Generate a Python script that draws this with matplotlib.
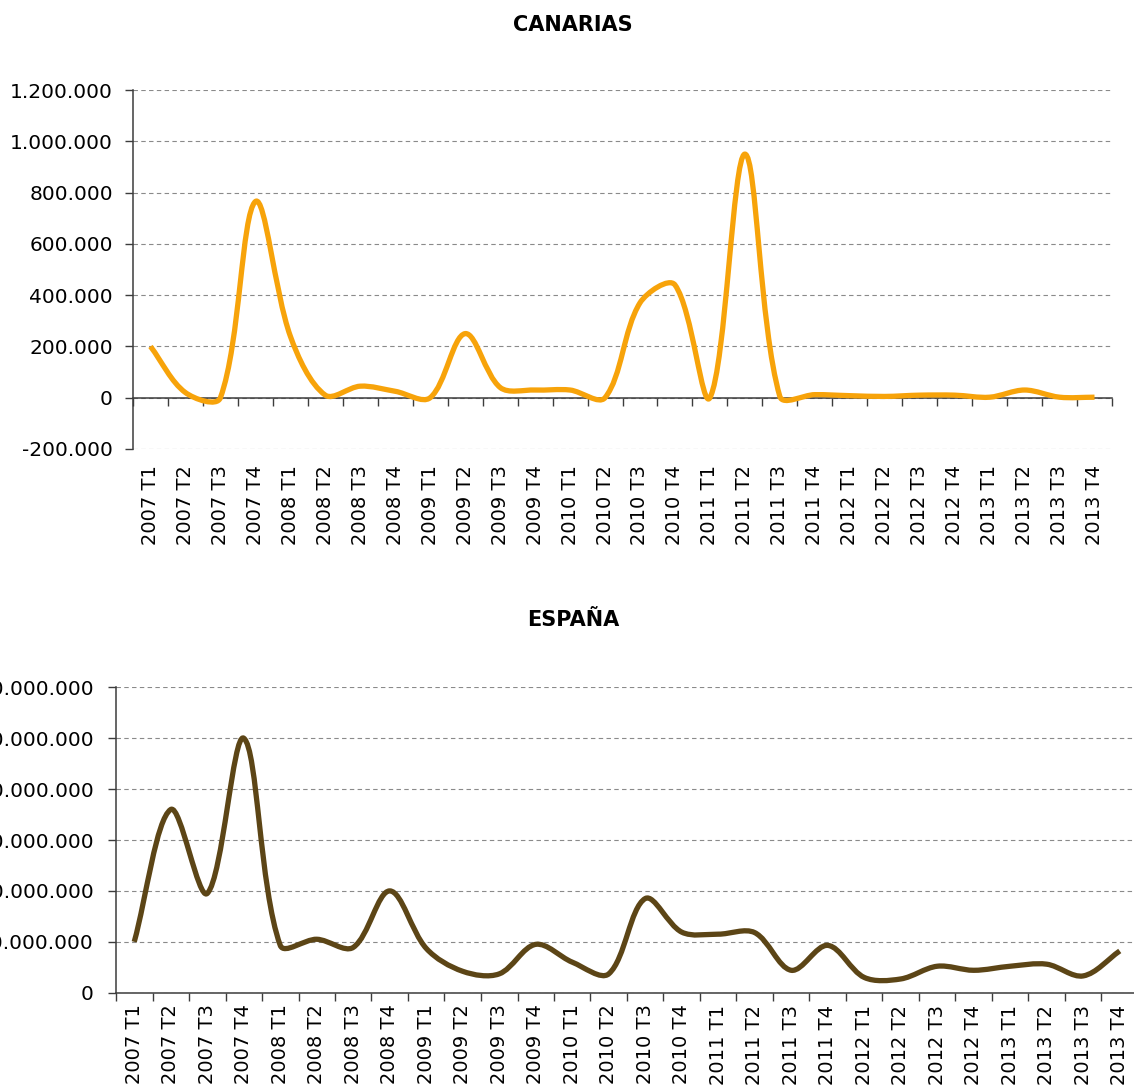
import matplotlib
matplotlib.use('Agg')
import matplotlib.pyplot as plt
from matplotlib.path import Path
from matplotlib.patches import PathPatch
from matplotlib.ticker import FuncFormatter
import numpy as np

# Datos
trimestres = [f'{a} T{t}' for a in range(2007, 2014) for t in range(1, 5)]

canarias = [200000, 20000, 0, 765000, 240000, 10000, 45000, 25000,
            0, 250000, 40000, 30000, 30000, 0, 370000, 440000,
            0, 950000, 5000, 12000, 8000, 5000, 10000, 10000,
            2000, 30000, 2000, 2000]

espana = [10000000, 36000000, 19500000, 50000000, 9300000, 10500000, 8900000, 20000000,
          8700000, 4200000, 3700000, 9500000, 6000000, 3700000, 18500000, 11900000,
          11500000, 11800000, 4400000, 9300000, 3000000, 2700000, 5200000, 4400000,
          5200000, 5600000, 3300000, 8200000]

W, H = 1134, 1091
fig = plt.figure(figsize=(W / 100, H / 100), dpi=100)

FS = 14
EJE = '#3c3c3c'


def miles(v, p):
    return f'{v:,.0f}'.replace(',', '.')


def linea_suave(ax, ys, color):
    # curva suavizada tipo Excel: Catmull-Rom con brazos repartidos
    # segun la longitud de cada tramo en pantalla
    xs = np.arange(len(ys))
    pts = ax.transData.transform(np.column_stack([xs, ys]))
    n = len(pts)
    brazo_in, brazo_out = [], []
    for i in range(n):
        a = pts[max(i - 1, 0)]
        b = pts[min(i + 1, n - 1)]
        t = (b - a) / 6
        d_in = np.hypot(*(pts[i] - a))
        d_out = np.hypot(*(b - pts[i]))
        if i == 0 or i == n - 1:
            t = t * 2
            brazo_in.append(t)
            brazo_out.append(t)
        else:
            brazo_in.append(t * 2 * d_in / (d_in + d_out))
            brazo_out.append(t * 2 * d_out / (d_in + d_out))
    verts = [pts[0]]
    codes = [Path.MOVETO]
    for i in range(n - 1):
        verts += [pts[i] + brazo_out[i], pts[i + 1] - brazo_in[i + 1], pts[i + 1]]
        codes += [Path.CURVE4] * 3
    verts = ax.transData.inverted().transform(np.array(verts))
    ax.add_patch(PathPatch(Path(verts, codes), fill=False, edgecolor=color,
                           lw=3.8, joinstyle='round', capstyle='butt', zorder=3))


def preparar(ax, ymin, ymax, paso, ypad, xpad):
    ax.set_xlim(-0.5, len(trimestres) - 0.5)
    ax.set_ylim(ymin, ymax)
    ax.set_yticks(np.arange(ymin, ymax + 1, paso))
    ax.yaxis.set_major_formatter(FuncFormatter(miles))
    ax.grid(axis='y', linestyle=(0, (4, 3)), color='#8a8a8a', lw=0.8)
    ax.set_axisbelow(True)
    for s in ['top', 'right']:
        ax.spines[s].set_visible(False)
    for s in ['left', 'bottom']:
        ax.spines[s].set_color(EJE)
        ax.spines[s].set_linewidth(1.1)
    ax.spines['bottom'].set_position(('data', 0))
    ax.set_xticks(np.arange(len(trimestres) + 1) - 0.5)
    ax.set_xticklabels([])
    ax.tick_params(axis='x', length=5.5, width=1, color=EJE)
    ax.tick_params(axis='y', length=5.5, width=1, color=EJE, labelsize=14.5, pad=ypad)
    sec = ax.secondary_xaxis('bottom')
    sec.set_xticks(np.arange(len(trimestres)))
    sec.set_xticklabels(trimestres, rotation=90, fontsize=FS)
    sec.tick_params(length=0, pad=xpad)
    sec.spines['bottom'].set_visible(False)


# CANARIAS
ax1 = fig.add_axes([133 / W, 1 - 449 / H, 979 / W, 359 / H])
preparar(ax1, -200000, 1200000, 200000, ypad=9, xpad=11.5)
linea_suave(ax1, canarias, '#F7A30A')
fig.text(572.5 / W, 1 - 25 / H, 'CANARIAS', ha='center', va='center',
         fontsize=15, fontweight='bold')

# ESPAÑA
ax2 = fig.add_axes([116 / W, 1 - 992.7 / H, 1022 / W, 305.4 / H])
preparar(ax2, 0, 60000000, 10000000, ypad=10.5, xpad=8.5)
linea_suave(ax2, espana, '#5C4516')
fig.text(573.5 / W, 1 - 620 / H, 'ESPAÑA', ha='center', va='center',
         fontsize=15, fontweight='bold')

fig.savefig('out.png', dpi=100)
